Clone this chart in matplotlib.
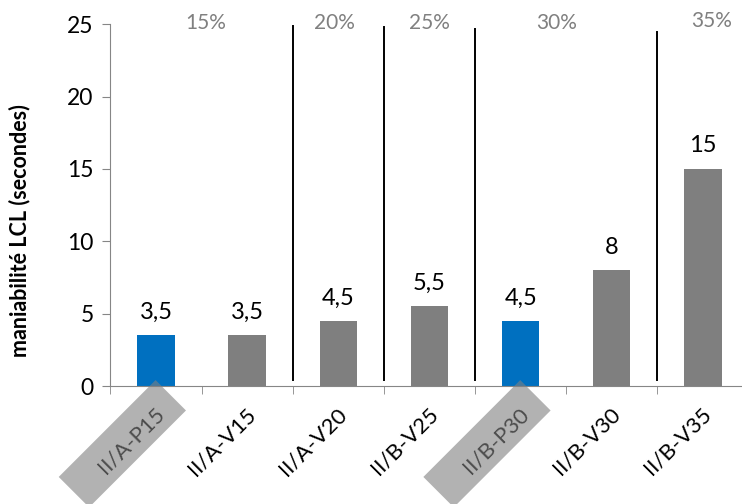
"""
Bar chart of LCL workability per mix, grouped by substitution rate
"""

import matplotlib
matplotlib.use("Agg")
import matplotlib.pyplot as plt
from matplotlib.patches import Rectangle
from matplotlib.transforms import Affine2D, ScaledTranslation

# data
mixes = ["II/A-P15", "II/A-V15", "II/A-V20", "II/B-V25",
         "II/B-P30", "II/B-V30", "II/B-V35"]
values = [3.5, 3.5, 4.5, 5.5, 4.5, 8, 15]
value_labels = ["3,5", "3,5", "4,5", "5,5", "4,5", "8", "15"]
highlighted = ["II/A-P15", "II/B-P30"]

# group separators (category boundary, bottom, top) and group titles
separators = [1.5, 2.5, 3.5, 5.5]
separator_tops = [24.9, 24.8, 24.65, 24.45]
separator_bottom = 0.4
rates = ["15%", "20%", "25%", "30%", "35%"]
rate_pos = [0.54, 1.96, 3.0, 4.4, 6.1]
rate_y = [25.1, 25.1, 25.1, 25.1, 25.25]

BLUE = "#0070C0"
GREY = "#7F7F7F"

plt.rcParams["font.family"] = ["Lato", "DejaVu Sans"]

fig = plt.figure(figsize=(7.42, 5.04), dpi=100)
ax = fig.add_axes([0.1488, 0.234, 0.860, 0.718])

x = list(range(len(mixes)))
colors = [BLUE if m in highlighted else GREY for m in mixes]
ax.bar(x, values, width=0.41, color=colors, zorder=2)

# value labels above the bars
for xi, v, lab in zip(x, values, value_labels):
    ax.annotate(lab, (xi, v), xytext=(0, 9), textcoords="offset points",
                ha="center", va="bottom", fontsize=17, color="black")

# black separators between the groups
for sx, top in zip(separators, separator_tops):
    ax.plot([sx, sx], [separator_bottom, top], color="black", lw=1.4,
            clip_on=False, zorder=3)

# group titles
for lab, px, py in zip(rates, rate_pos, rate_y):
    ax.text(px, py, lab, ha="center", va="center", fontsize=15,
            color="#808080", clip_on=False)

ax.set_xlim(-0.5, len(mixes) - 0.5)
ax.set_ylim(0, 25)
ax.set_yticks(range(0, 26, 5))
ax.tick_params(axis="y", labelsize=16.5, length=6, color="#868686",
               direction="out", pad=6)

# labels at category centres, ticks on boundaries
ax.set_xticks(x)
ax.set_xticklabels([])
ax.set_xticks([i - 0.5 for i in range(len(mixes) + 1)], minor=True)
ax.tick_params(axis="x", which="major", length=0)
ax.tick_params(axis="x", which="minor", length=6, color="#868686",
               direction="out")

for xi, m in zip(x, mixes):
    ax.annotate(m, (xi, 0), xycoords=("data", "data"),
                xytext=(4, -18), textcoords="offset points",
                rotation=45, rotation_mode="anchor",
                ha="right", va="center", fontsize=16, annotation_clip=False)
    if m in highlighted:
        # grey rotated box behind the label
        box = Rectangle((-68, -21.5), 137, 43, facecolor="#808080",
                        edgecolor="none", alpha=0.6, zorder=5, clip_on=False)
        box.set_transform(Affine2D().rotate_deg(45).translate(-34, -58)
                          + ScaledTranslation(xi, 0, ax.transData))
        fig.add_artist(box)

for side in ["top", "right"]:
    ax.spines[side].set_visible(False)
for side in ["left", "bottom"]:
    ax.spines[side].set_color("#868686")

ax.set_ylabel("maniabilité LCL (secondes)", fontsize=15.5, fontweight="bold")
ax.yaxis.set_label_coords(-0.125, 0.43)

fig.savefig("out.png", dpi=100)
